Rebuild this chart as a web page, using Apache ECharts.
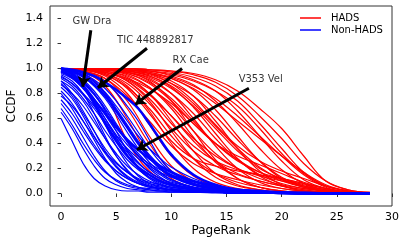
<!DOCTYPE html>
<html>
<head>
<meta charset="utf-8">
<script src="https://cdn.jsdelivr.net/npm/echarts@6/dist/echarts.min.js"></script>
<style>html,body{margin:0;padding:0;background:#fff}#c{width:408px;height:245px}</style>
</head>
<body>
<div id="c"></div>
<script>
// ---- data ----
const xHads = [0,2,4,6,8,10,12,14,16,18,20,22,24,26,28];
const hadsCurves = [
  [1.00,0.96,0.80,0.42,0.18,0.08,0.04,0.02,0.01,0.005,0,0,0,0,0],
  [1.00,0.97,0.86,0.60,0.30,0.12,0.05,0.03,0.02,0.01,0,0,0,0,0],
  [1.00,0.98,0.90,0.68,0.40,0.18,0.08,0.04,0.02,0.01,0.005,0,0,0,0],
  [1.00,0.98,0.92,0.74,0.46,0.22,0.10,0.05,0.03,0.02,0.01,0,0,0,0],
  [1.00,0.99,0.94,0.80,0.55,0.30,0.14,0.06,0.03,0.02,0.01,0,0,0,0],
  [1.00,0.98,0.92,0.78,0.58,0.38,0.24,0.16,0.11,0.07,0.04,0.02,0.01,0,0],
  [1.00,0.99,0.96,0.86,0.66,0.40,0.20,0.09,0.04,0.02,0.01,0,0,0,0],
  [1.00,0.99,0.95,0.85,0.68,0.46,0.28,0.16,0.09,0.05,0.02,0.01,0,0,0],
  [1.00,0.99,0.97,0.90,0.74,0.50,0.28,0.13,0.06,0.03,0.01,0,0,0,0],
  [1.00,0.99,0.96,0.88,0.72,0.52,0.34,0.22,0.15,0.10,0.06,0.03,0.01,0,0],
  [1.00,0.99,0.98,0.93,0.80,0.58,0.34,0.16,0.07,0.03,0.01,0,0,0,0],
  [1.00,1.00,0.98,0.92,0.80,0.62,0.42,0.26,0.16,0.10,0.06,0.03,0.01,0,0],
  [1.00,1.00,0.99,0.95,0.85,0.68,0.45,0.25,0.12,0.05,0.02,0.01,0,0,0],
  [1.00,1.00,0.98,0.94,0.85,0.70,0.50,0.32,0.20,0.12,0.07,0.04,0.02,0.01,0],
  [1.00,1.00,0.99,0.97,0.90,0.74,0.50,0.27,0.12,0.05,0.02,0.01,0,0,0],
  [1.00,0.99,0.97,0.92,0.84,0.72,0.56,0.40,0.27,0.17,0.10,0.05,0.02,0.01,0],
  [1.00,1.00,0.99,0.97,0.92,0.80,0.60,0.38,0.20,0.09,0.04,0.02,0.01,0,0],
  [1.00,1.00,0.99,0.97,0.91,0.80,0.64,0.44,0.27,0.15,0.08,0.04,0.02,0.01,0],
  [1.00,1.00,1.00,0.98,0.94,0.85,0.69,0.48,0.28,0.14,0.06,0.02,0.01,0,0],
  [1.00,1.00,0.99,0.98,0.94,0.86,0.72,0.54,0.36,0.21,0.11,0.05,0.02,0.01,0],
  [1.00,1.00,1.00,0.99,0.96,0.90,0.78,0.58,0.36,0.18,0.07,0.02,0.01,0,0],
  [1.00,1.00,0.99,0.98,0.95,0.88,0.78,0.62,0.43,0.26,0.13,0.06,0.02,0.01,0],
  [1.00,1.00,1.00,0.99,0.97,0.92,0.83,0.67,0.46,0.26,0.12,0.05,0.02,0,0],
  [1.00,1.00,1.00,0.99,0.98,0.94,0.87,0.74,0.56,0.36,0.19,0.08,0.03,0.01,0],
  [1.00,1.00,1.00,1.00,0.98,0.96,0.91,0.82,0.66,0.46,0.26,0.11,0.04,0.01,0],
  [1.00,1.00,1.00,0.99,0.98,0.95,0.90,0.82,0.70,0.52,0.32,0.16,0.06,0.02,0],
  [1.00,1.00,1.00,1.00,0.99,0.97,0.93,0.86,0.74,0.56,0.36,0.17,0.06,0.02,0],
  [1.00,1.00,1.00,1.00,0.99,0.98,0.95,0.89,0.78,0.62,0.44,0.24,0.10,0.03,0.01],
  [1.00,1.00,1.00,1.00,0.99,0.98,0.96,0.91,0.82,0.68,0.52,0.30,0.10,0.03,0.01],
  [1.00,1.00,0.99,0.98,0.96,0.92,0.84,0.72,0.58,0.44,0.30,0.17,0.07,0.02,0],
  [1.00,0.99,0.95,0.84,0.64,0.42,0.28,0.22,0.18,0.15,0.11,0.06,0.02,0.01,0],
  [1.00,1.00,0.99,0.96,0.88,0.74,0.56,0.40,0.30,0.23,0.16,0.09,0.04,0.01,0],
  [1.00,1.00,0.99,0.96,0.89,0.76,0.58,0.40,0.26,0.17,0.12,0.08,0.04,0.01,0],
  [1.00,0.99,0.97,0.90,0.76,0.56,0.38,0.26,0.19,0.15,0.12,0.08,0.04,0.01,0],
  [1.00,1.00,1.00,0.99,0.96,0.88,0.74,0.55,0.38,0.26,0.18,0.12,0.06,0.02,0],
  [1.00,1.00,0.99,0.97,0.93,0.84,0.70,0.52,0.34,0.20,0.12,0.07,0.03,0.01,0],
  [1.00,1.00,1.00,0.99,0.97,0.93,0.86,0.76,0.62,0.46,0.30,0.15,0.05,0.01,0],
  [1.00,0.99,0.97,0.91,0.79,0.62,0.44,0.30,0.20,0.14,0.10,0.06,0.03,0.01,0]
];
const xNonHads = [0,1,2,3,4,5,6,7,8,9,10,12,14,16,18,20,22,24,26,28];
const nonHadsCurves = [
  [0.60,0.42,0.24,0.12,0.06,0.03,0.02,0.02,0.01,0.01,0.01,0.01,0.005,0,0,0,0,0,0,0],
  [0.65,0.52,0.36,0.22,0.12,0.07,0.04,0.03,0.02,0.02,0.01,0.01,0.01,0.005,0,0,0,0,0,0],
  [0.72,0.60,0.45,0.30,0.18,0.10,0.06,0.04,0.03,0.02,0.02,0.01,0.01,0.005,0,0,0,0,0,0],
  [0.78,0.70,0.58,0.43,0.28,0.16,0.09,0.05,0.03,0.02,0.02,0.01,0.01,0.005,0,0,0,0,0,0],
  [0.85,0.76,0.62,0.46,0.32,0.21,0.13,0.08,0.05,0.04,0.03,0.02,0.01,0.01,0.005,0,0,0,0,0],
  [0.90,0.84,0.74,0.60,0.44,0.30,0.19,0.11,0.07,0.05,0.03,0.02,0.01,0.01,0.005,0,0,0,0,0],
  [0.95,0.90,0.80,0.64,0.46,0.30,0.18,0.10,0.06,0.04,0.03,0.02,0.01,0.005,0,0,0,0,0,0],
  [0.98,0.94,0.86,0.72,0.55,0.38,0.24,0.14,0.08,0.05,0.03,0.02,0.01,0.005,0,0,0,0,0,0],
  [0.99,0.96,0.90,0.80,0.66,0.50,0.34,0.21,0.13,0.08,0.05,0.03,0.02,0.01,0.005,0,0,0,0,0],
  [1.00,0.96,0.86,0.72,0.56,0.42,0.30,0.21,0.15,0.10,0.07,0.04,0.02,0.01,0.01,0.005,0,0,0,0],
  [1.00,0.98,0.94,0.87,0.78,0.66,0.53,0.40,0.29,0.20,0.14,0.07,0.04,0.02,0.01,0.005,0,0,0,0],
  [1.00,0.99,0.97,0.94,0.89,0.83,0.76,0.68,0.56,0.43,0.31,0.15,0.07,0.03,0.01,0.005,0,0,0,0],
  [0.98,0.93,0.85,0.75,0.64,0.53,0.43,0.35,0.28,0.22,0.17,0.10,0.06,0.03,0.02,0.01,0.005,0,0,0],
  [1.00,0.99,0.97,0.94,0.89,0.81,0.70,0.58,0.43,0.28,0.18,0.08,0.04,0.02,0.01,0.005,0,0,0,0],
  [0.96,0.92,0.84,0.73,0.60,0.47,0.35,0.25,0.17,0.12,0.08,0.04,0.02,0.01,0.005,0,0,0,0,0],
  [0.92,0.86,0.76,0.64,0.50,0.38,0.27,0.19,0.13,0.09,0.06,0.03,0.02,0.01,0.005,0,0,0,0,0],
  [0.88,0.78,0.64,0.50,0.36,0.25,0.17,0.11,0.08,0.06,0.04,0.02,0.01,0.01,0.005,0,0,0,0,0],
  [0.82,0.72,0.58,0.45,0.33,0.24,0.17,0.12,0.09,0.07,0.05,0.03,0.02,0.01,0.01,0.005,0,0,0,0],
  [0.98,0.95,0.89,0.80,0.68,0.55,0.42,0.30,0.20,0.13,0.08,0.03,0.01,0.005,0,0,0,0,0,0],
  [0.99,0.97,0.93,0.86,0.76,0.63,0.49,0.36,0.25,0.17,0.11,0.05,0.02,0.01,0.005,0,0,0,0,0],
  [1.00,0.98,0.95,0.89,0.80,0.68,0.55,0.42,0.31,0.22,0.15,0.07,0.03,0.02,0.01,0.005,0,0,0,0],
  [1.00,0.99,0.96,0.91,0.84,0.74,0.62,0.49,0.36,0.25,0.17,0.08,0.04,0.02,0.01,0.005,0,0,0,0],
  [0.94,0.88,0.79,0.68,0.56,0.44,0.33,0.24,0.17,0.12,0.09,0.05,0.03,0.02,0.01,0.01,0.005,0,0,0],
  [0.97,0.93,0.85,0.74,0.60,0.45,0.31,0.20,0.12,0.07,0.04,0.02,0.01,0.005,0,0,0,0,0,0],
  [0.90,0.80,0.66,0.50,0.34,0.22,0.14,0.09,0.06,0.04,0.03,0.02,0.01,0.005,0,0,0,0,0,0],
  [0.75,0.64,0.50,0.37,0.26,0.18,0.12,0.08,0.06,0.04,0.03,0.02,0.01,0.005,0,0,0,0,0,0],
  [0.68,0.55,0.40,0.27,0.17,0.11,0.07,0.05,0.04,0.03,0.02,0.01,0.01,0.005,0,0,0,0,0,0],
  [0.99,0.95,0.87,0.76,0.63,0.50,0.39,0.30,0.24,0.19,0.15,0.09,0.05,0.03,0.02,0.01,0.01,0.005,0,0],
  [1.00,0.99,0.96,0.90,0.81,0.70,0.58,0.46,0.36,0.28,0.21,0.12,0.06,0.03,0.02,0.01,0.005,0,0,0],
  [0.93,0.88,0.80,0.70,0.58,0.46,0.36,0.28,0.22,0.17,0.13,0.08,0.05,0.03,0.02,0.01,0.005,0,0,0],
  [0.87,0.80,0.70,0.57,0.44,0.32,0.22,0.15,0.10,0.07,0.05,0.03,0.02,0.01,0.005,0,0,0,0,0],
  [1.00,0.97,0.91,0.82,0.70,0.56,0.43,0.32,0.23,0.16,0.11,0.05,0.02,0.01,0.005,0,0,0,0,0],
  [0.80,0.68,0.53,0.39,0.27,0.18,0.12,0.08,0.05,0.04,0.03,0.02,0.01,0.005,0,0,0,0,0,0],
  [0.97,0.94,0.88,0.79,0.67,0.54,0.41,0.30,0.21,0.15,0.10,0.05,0.03,0.02,0.01,0.005,0,0,0,0]
];
const highlightedNonHads = [9,10,11,12];

const annotNames = ['GW Dra','TIC 448892817','RX Cae','V353 Vel'];
const annotTextX = [2.8, 8.55, 11.75, 18.1];
const annotTextY = [1.38, 1.226, 1.064, 0.91];
const arrowFromX = [2.70, 7.79, 10.97, 17.03];
const arrowFromY = [1.306, 1.162, 1.0, 0.842];
const arrowToX = [1.97, 3.34, 6.73, 6.88];
const arrowToY = [0.854, 0.846, 0.712, 0.35];

const xTicks = [0,5,10,15,20,25,30];
const yTicks = [0.0,0.2,0.4,0.6,0.8,1.0,1.2,1.4];

// ---- chart ----
const FONT = 'DejaVu Sans';
const series = [];
hadsCurves.forEach(ys => {
  series.push({
    type:'line', name:'HADS', showSymbol:false, symbol:'none',
    smooth:0.4, silent:true,
    lineStyle:{color:'#ff0000', width:1.2}, itemStyle:{color:'#ff0000'},
    data: xHads.map((x,i)=>[x, ys[i]]), z:2
  });
});
nonHadsCurves.forEach((ys,k) => {
  const hl = highlightedNonHads.includes(k);
  series.push({
    type:'line', name:'Non-HADS', showSymbol:false, symbol:'none',
    smooth:0.4, silent:true,
    lineStyle:{color:'#0000ff', width: hl ? 2.6 : 1.2}, itemStyle:{color:'#0000ff'},
    data: xNonHads.map((x,i)=>[x, ys[i]]), z: hl ? 4 : 3
  });
});
series.push({
  type:'lines', name:'arrows', coordinateSystem:'cartesian2d', silent:true, z:10,
  symbol:['none','arrow'], symbolSize:[0,10],
  lineStyle:{color:'#000', width:3, opacity:1, curveness:0},
  data: annotNames.map((n,i)=>({coords:[[arrowFromX[i],arrowFromY[i]],[arrowToX[i],arrowToY[i]]]}))
});
series.push({
  type:'scatter', name:'annotations', symbolSize:0, silent:true, z:11,
  label:{show:true, position:'inside', formatter:p=>p.data[2], color:'#000',
         fontFamily:FONT, fontSize:10},
  data: annotNames.map((n,i)=>[annotTextX[i], annotTextY[i], n])
});

const option = {
  animation:false,
  backgroundColor:'#fff',
  grid:{left:50, right:16, top:6, bottom:39, outerBoundsMode:'none', containLabel:false,
        show:true, borderColor:'#333', borderWidth:1, backgroundColor:'transparent'},
  legend:{
    data:['HADS','Non-HADS'], orient:'vertical', left:300, top:12, padding:0,
    icon:'rect', itemWidth:21, itemHeight:1.5, itemGap:0,
    textStyle:{fontFamily:FONT, fontSize:10, color:'#000', lineHeight:12, padding:[0,0,0,5]},
    selectedMode:false
  },
  xAxis:{
    type:'value', min:-1, max:30,
    name:'PageRank', nameLocation:'middle', nameGap:19, nameMoveOverlap:false,
    nameTextStyle:{fontFamily:FONT, fontSize:12, color:'#000'},
    axisLine:{show:false},
    axisTick:{show:true, inside:false, length:3.5, lineStyle:{color:'#333'}, customValues:xTicks},
    axisLabel:{fontFamily:FONT, fontSize:11, color:'#000', margin:6, customValues:xTicks, formatter:v=>String(v)},
    splitLine:{show:false}
  },
  yAxis:{
    type:'value', min:-0.1, max:1.5,
    name:'CCDF', nameLocation:'middle', nameGap:32, nameMoveOverlap:false,
    nameTextStyle:{fontFamily:FONT, fontSize:12, color:'#000'},
    axisLine:{show:false},
    axisTick:{show:true, inside:false, length:3.5, lineStyle:{color:'#333'}, customValues:yTicks},
    axisLabel:{fontFamily:FONT, fontSize:11, color:'#000', margin:7, customValues:yTicks, formatter:v=>v.toFixed(1)},
    splitLine:{show:false}
  },
  series: series
};
const chart = echarts.init(document.getElementById('c'), null, {renderer:'canvas'});
chart.setOption(option);
</script>
</body>
</html>
